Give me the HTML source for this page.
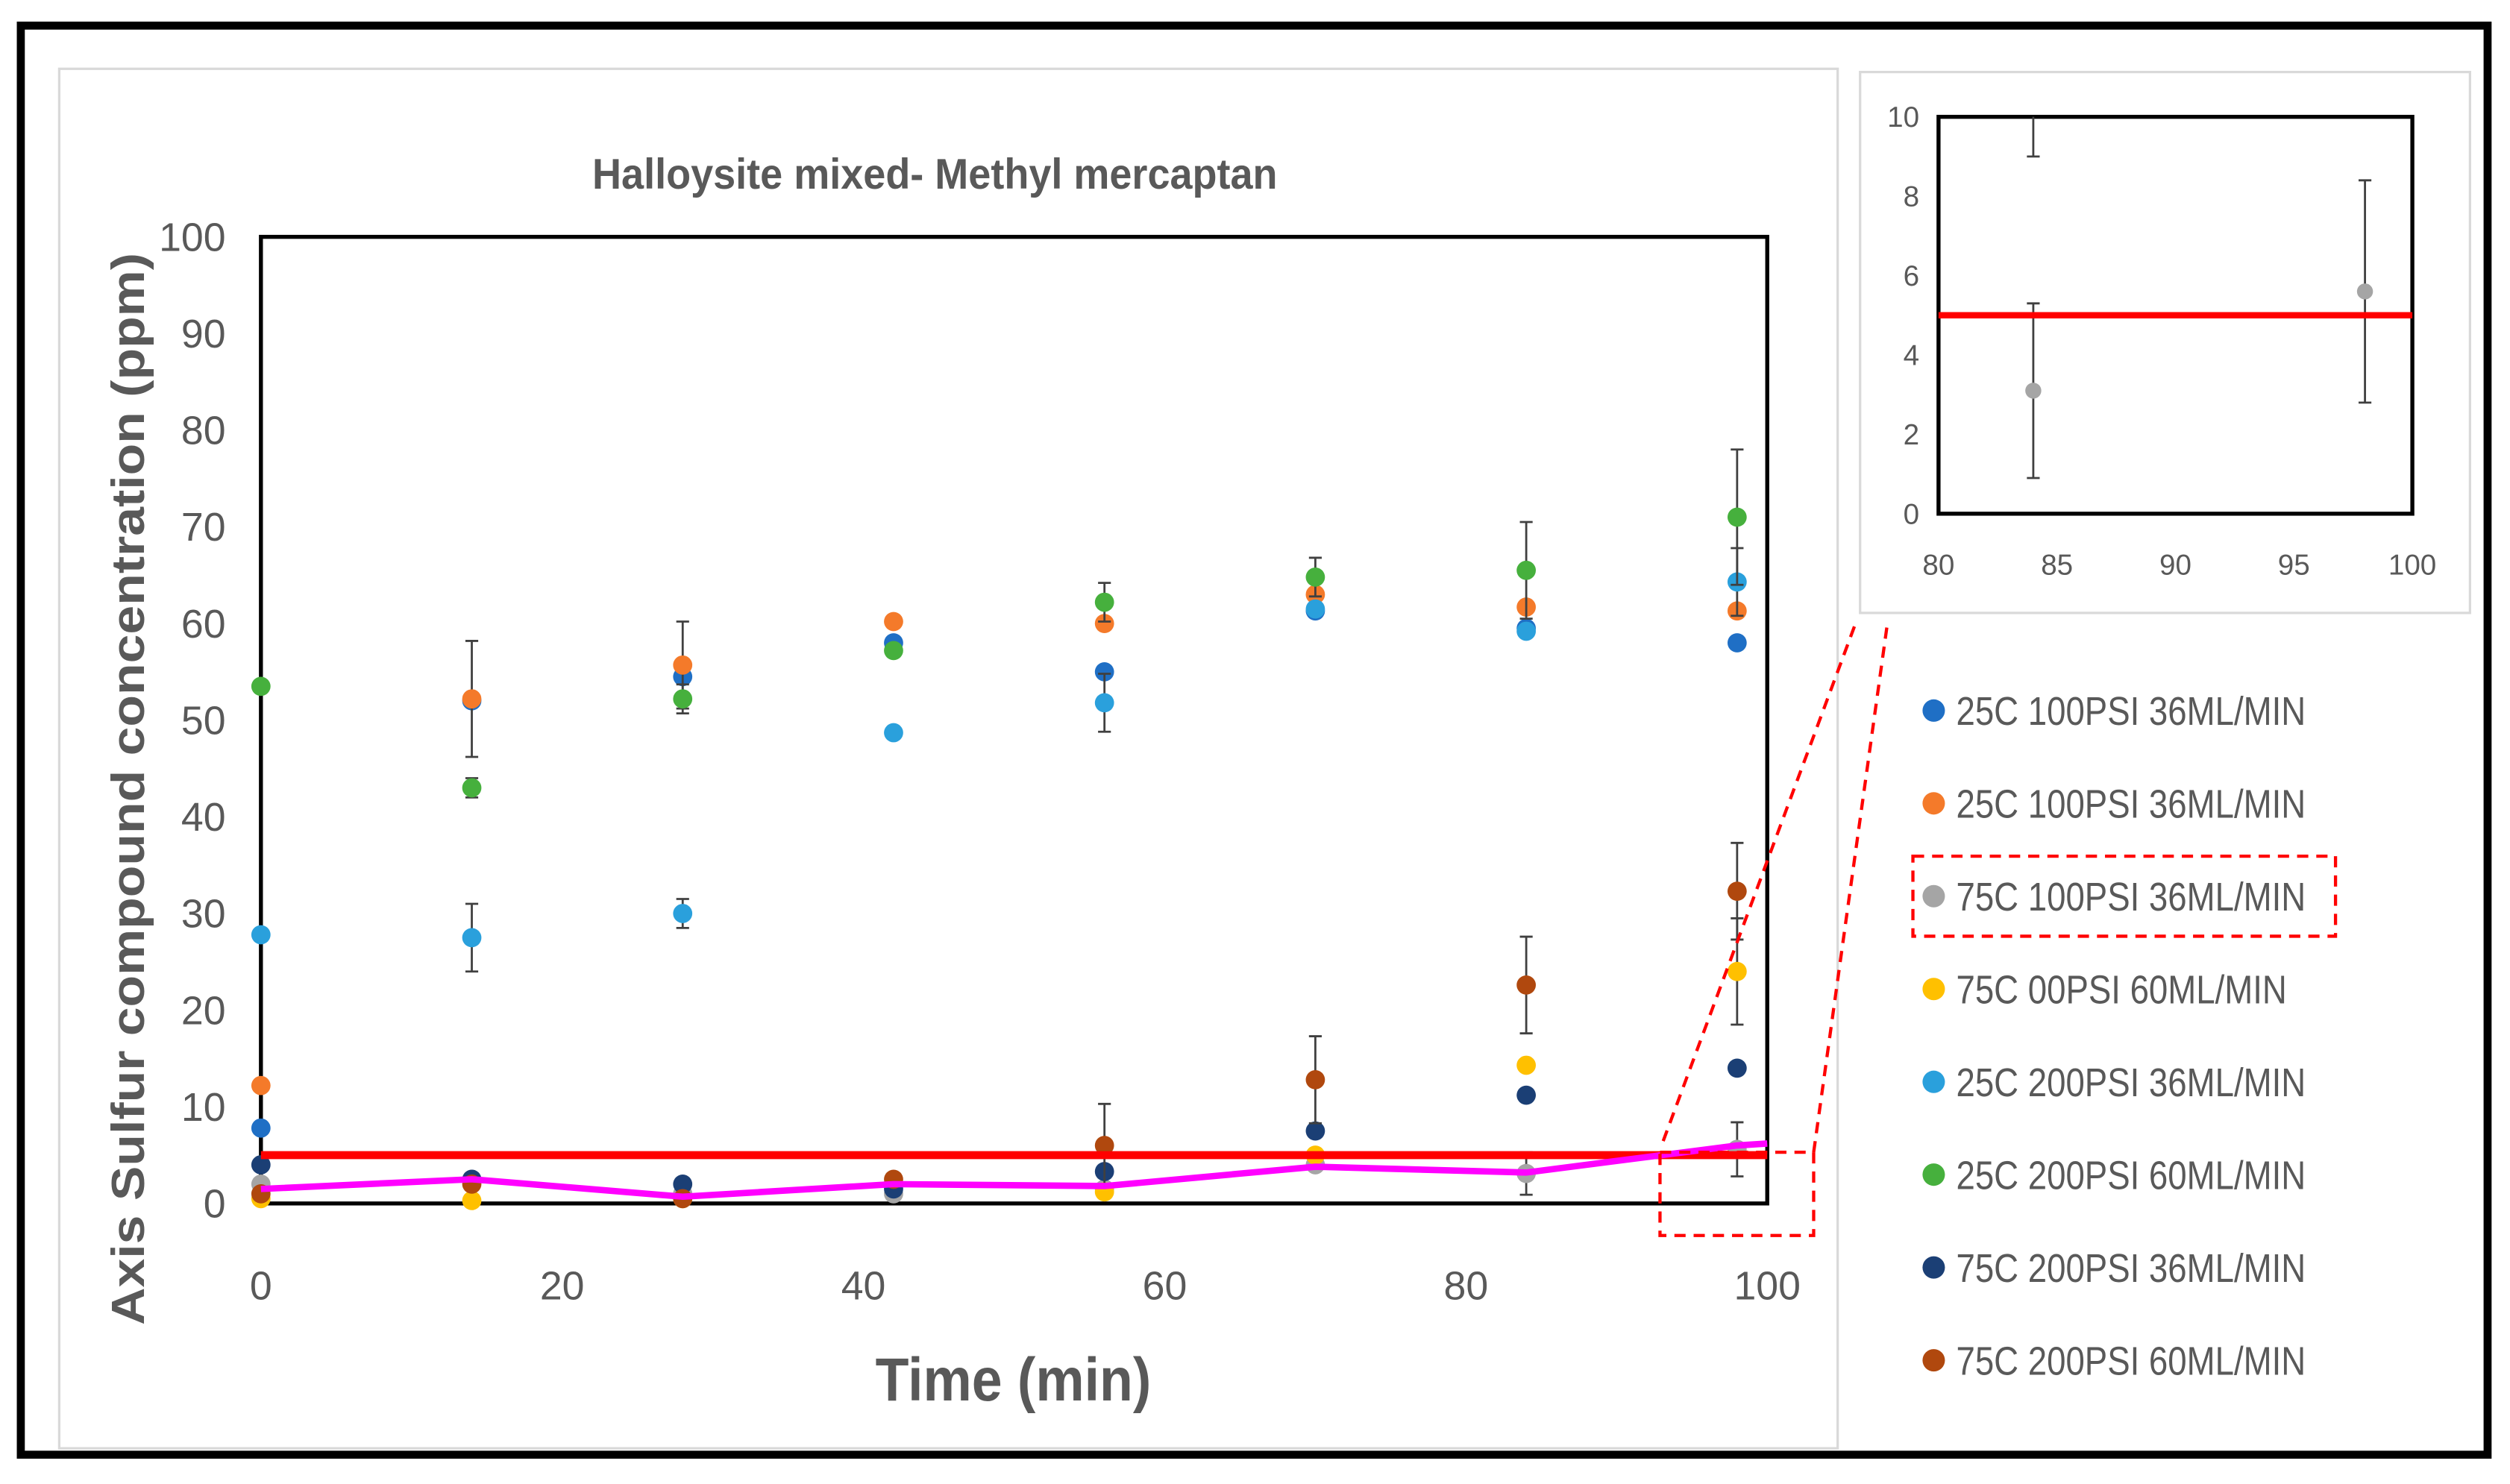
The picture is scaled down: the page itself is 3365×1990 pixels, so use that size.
<!DOCTYPE html>
<html><head><meta charset="utf-8"><style>
html,body{margin:0;padding:0;background:#fff}
svg{display:block}
text{font-family:"Liberation Sans",sans-serif;fill:#595959}
</style></head><body>
<svg width="3365" height="1990" viewBox="0 0 1568 927.3" preserveAspectRatio="none" id="fig">
<rect x="13" y="16" width="1541" height="893" fill="#fff" stroke="#000" stroke-width="5"/>
<rect x="37" y="43" width="1111" height="862" fill="#fff" stroke="#d9d9d9" stroke-width="1.5"/>
<rect x="1162" y="45" width="381" height="338" fill="#fff" stroke="#d9d9d9" stroke-width="1.5"/>
<text x="370" y="118" font-size="27" font-weight="bold" textLength="428" lengthAdjust="spacingAndGlyphs">Halloysite mixed- Methyl mercaptan</text>
<text font-size="29" font-weight="bold" text-anchor="middle" textLength="670" lengthAdjust="spacingAndGlyphs" transform="translate(90 493) rotate(-90)">Axis Sulfur compound concentration (ppm)</text>
<text x="633" y="875" font-size="38" font-weight="bold" text-anchor="middle" transform="translate(633 0) scale(0.9 1) translate(-633 0)">Time (min)</text>
<g id="main"></g>
<g id="inset"></g>
<g id="legend"></g>
<rect x="1037" y="720" width="96" height="52" fill="none" stroke="#ff0000" stroke-width="2" stroke-dasharray="7,5"/>
<line x1="1039" y1="713" x2="1159" y2="390" stroke="#ff0000" stroke-width="2" stroke-dasharray="7,5"/>
<line x1="1133" y1="720" x2="1179" y2="390" stroke="#ff0000" stroke-width="2" stroke-dasharray="7,5"/>
<rect x="1195" y="535" width="264" height="50" fill="none" stroke="#ff0000" stroke-width="2" stroke-dasharray="7,5"/>
</svg>
<script>
const times=[0,14,28,42,56,70,84,98];
const seriesNames=["25C 100PSI 36ML/MIN","25C 100PSI 36ML/MIN","75C 100PSI 36ML/MIN","75C 00PSI 60ML/MIN","25C 200PSI 36ML/MIN","25C 200PSI 60ML/MIN","75C 200PSI 36ML/MIN","75C 200PSI 60ML/MIN"];
const seriesColors=["#1f6fc5","#f47a2a","#a5a5a5","#ffc000","#2aa0dc","#46b03d","#1b3f75","#b0480e"];
const sBlue=[7.8,52,54.5,58,55,61.3,59.5,58];
const sOrange=[12.2,52.2,55.7,60.2,60,63,61.7,61.3];
const sGray=[2,2.5,1,1,1.5,4,3.1,5.6];
const sYellow=[0.5,0.3,0.5,2,1.2,5,14.3,24];
const sLightBlue=[27.8,27.5,30,48.7,51.8,61.5,59.2,64.3];
const sGreen=[53.5,43,52.2,57.2,62.2,64.8,65.5,71];
const sNavy=[4,2.5,2,1.5,3.3,7.5,11.2,14];
const sBrown=[1,2,0.5,2.5,6,12.8,22.6,32.3];
const eOrange=[0,6,4.5,0,0,0,0,0];
const eGreen=[0,1,1.5,0,2,2,5,7];
const eLightBlue=[0,3.5,1.5,0,3,0,0,3.5];
const eBrown=[0,0,0,0,4.3,4.5,5,5];
const eGray=[0,0,0,0,0,0,2.2,2.8];
const eYellow=[0,0,0,0,0,0,0,5.5];
const magentaLine=[1.5,2.5,0.7,2,1.8,3.8,3.2,6];
const limitValue=5;
const xTicks=[0,20,40,60,80,100];
const yTicks=[0,10,20,30,40,50,60,70,80,90,100];
const insetXTicks=[80,85,90,95,100];
const insetYTicks=[0,2,4,6,8,10];
const allSeries=[sBlue,sOrange,sGray,sYellow,sLightBlue,sGreen,sNavy,sBrown];
const allErr=[null,eOrange,eGray,eYellow,eLightBlue,eGreen,null,eBrown];
const NS="http://www.w3.org/2000/svg";
function mk(tag,attrs,parent){const e=document.createElementNS(NS,tag);for(const k in attrs)e.setAttribute(k,attrs[k]);parent.appendChild(e);return e;}
function draw(g,X,Y,x0,x1,y0,y1,xt,yt,fs,inset){
  mk('rect',{x:X(x0),y:Y(y1),width:X(x1)-X(x0),height:Y(y0)-Y(y1),fill:'none',stroke:'#000','stroke-width':2.5},g);
  xt.forEach(v=>{const t=mk('text',{x:X(v),y:Y(y0)+(inset?38:60),'font-size':fs,'text-anchor':'middle'},g);t.textContent=v;
    
    });
  yt.forEach(v=>{const t=mk('text',{x:X(x0)-(inset?12:22),y:Y(v)+fs*0.35,'font-size':fs,'text-anchor':'end'},g);t.textContent=v;
    
    });
  const clip=inset;
  const inX=v=>!clip||(v>=x0&&v<=x1);
  allSeries.forEach((s,i)=>{
    const er=allErr[i];
    s.forEach((v,j)=>{
      if(!inX(times[j]))return;
      if(clip&&v>y1)return;
      if(er&&er[j]>0){
        const lo=Math.max(y0,v-er[j]),hi=Math.min(y1,v+er[j]);
        const l=mk('path',{d:`M${X(times[j])},${Y(lo)}V${Y(hi)}M${X(times[j])-4},${Y(lo)}h8M${X(times[j])-4},${Y(hi)}h8`,stroke:'#404040','stroke-width':1.3,fill:'none'},g);
        
        
      }
      const c=mk('circle',{cx:X(times[j]),cy:Y(v),r:inset?5:6,fill:seriesColors[i]},g);
      
      
    });
  });
  if(inset){
    const l=mk('path',{d:`M${X(84)},${Y(9)}V${Y(10)}M${X(84)-4},${Y(9)}h8`,stroke:'#404040','stroke-width':1.3},g);
    
    
  }
  const r=mk('line',{x1:X(x0),x2:X(x1),y1:Y(limitValue),y2:Y(limitValue),stroke:'#ff0000','stroke-width':inset?4:5},g);
  
  
  if(!inset){
    const p=mk('polyline',{points:times.map((t,j)=>X(t)+','+Y(magentaLine[j])).join(' ')+' '+X(100)+','+Y(6.2),fill:'none',stroke:'#ff00ff','stroke-width':4},g);
    
    
  }
}
const Xm=v=>163+(v/100)*941, Ym=v=>752-(v/100)*604;
draw(document.getElementById('main'),Xm,Ym,0,100,0,100,xTicks,yTicks,25,false);
const Xi=v=>1211+((v-80)/20)*296, Yi=v=>321-(v/10)*248;
draw(document.getElementById('inset'),Xi,Yi,80,100,0,10,insetXTicks,insetYTicks,18,true);
const lg=document.getElementById('legend');
seriesNames.forEach((n,i)=>{
  const y=444+i*58;
  const c=mk('circle',{cx:1208,cy:y,r:7,fill:seriesColors[i]},lg);
  
  
  const t=mk('text',{x:1222,y:y+9,'font-size':25,transform:`translate(1222 0) scale(0.85 1) translate(-1222 0)`},lg);
  t.textContent=n;
  
  
});
</script>
</body></html>
